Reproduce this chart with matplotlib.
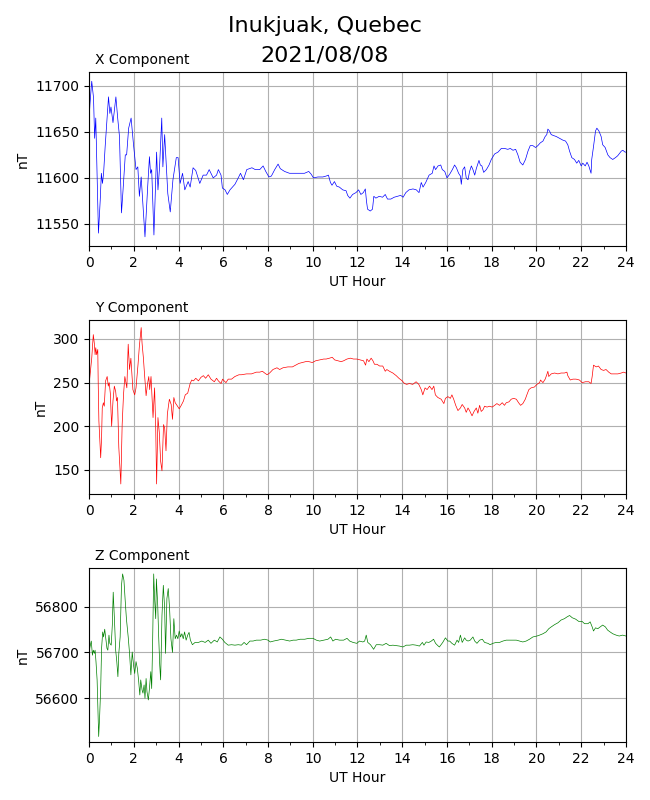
import matplotlib
matplotlib.use("Agg")
import matplotlib.pyplot as plt
from matplotlib.ticker import MultipleLocator

# values (UT hour, nT)
x_hours = [0.0, 0.04, 0.12, 0.2, 0.25, 0.3, 0.42, 0.5, 0.55, 0.6, 0.65, 0.72, 0.8, 0.87, 0.93, 0.98,
           1.07, 1.2, 1.28, 1.36, 1.45, 1.52, 1.62, 1.68, 1.77, 1.88, 1.98, 2.1, 2.18, 2.25, 2.33,
           2.5, 2.62, 2.7, 2.75, 2.8, 2.9, 3.02, 3.08, 3.15, 3.25, 3.3, 3.38, 3.52, 3.63, 3.75, 3.9,
           3.98, 4.07, 4.18, 4.28, 4.43, 4.52, 4.65, 4.77, 4.95, 5.1, 5.25, 5.37, 5.55, 5.7, 5.78,
           5.9, 5.96, 6.08, 6.18, 6.3, 6.52, 6.67, 6.77, 6.9, 7.05, 7.28, 7.43, 7.63, 7.78, 7.9,
           8.04, 8.15, 8.3, 8.45, 8.55, 8.74, 8.96, 9.19, 9.41, 9.63, 9.82, 9.93, 10.03, 10.23,
           10.45, 10.6, 10.7, 10.79, 10.86, 10.97, 11.07, 11.19, 11.34, 11.49, 11.56, 11.66, 11.78,
           11.93, 12.05, 12.15, 12.26, 12.35, 12.4, 12.45, 12.57, 12.67, 12.73, 12.82, 12.97, 13.12,
           13.24, 13.34, 13.49, 13.64, 13.79, 13.93, 14.04, 14.16, 14.3, 14.48, 14.63, 14.75, 14.85,
           14.93, 15.05, 15.2, 15.34, 15.42, 15.49, 15.6, 15.72, 15.79, 15.9, 16.0, 16.12, 16.24,
           16.34, 16.42, 16.52, 16.6, 16.64, 16.71, 16.79, 16.86, 16.94, 17.01, 17.09, 17.16, 17.24,
           17.31, 17.43, 17.49, 17.56, 17.64, 17.76, 17.88, 17.98, 18.13, 18.28, 18.43, 18.57, 18.72,
           18.83, 18.95, 19.07, 19.17, 19.27, 19.39, 19.51, 19.62, 19.72, 19.84, 19.96, 20.06, 20.17,
           20.29, 20.39, 20.46, 20.51, 20.58, 20.66, 20.76, 20.88, 21.03, 21.18, 21.3, 21.4, 21.48,
           21.58, 21.7, 21.8, 21.89, 22.0, 22.07, 22.18, 22.26, 22.34, 22.44, 22.47, 22.55, 22.64,
           22.7, 22.79, 22.89, 22.96, 23.07, 23.19, 23.29, 23.41, 23.53, 23.63, 23.79, 23.86, 23.96,
           24.0]
x_values = [11663, 11680, 11705, 11687, 11643, 11665, 11540, 11576, 11605, 11594, 11605, 11634, 11663,
            11688, 11670, 11677, 11660, 11688, 11665, 11645, 11562, 11587, 11625, 11625, 11654, 11665,
            11638, 11609, 11612, 11580, 11601, 11536, 11590, 11623, 11605, 11609, 11538, 11628, 11587,
            11611, 11665, 11612, 11647, 11583, 11563, 11598, 11622, 11622, 11594, 11605, 11587, 11596,
            11590, 11611, 11608, 11594, 11603, 11603, 11609, 11600, 11603, 11609, 11603, 11589, 11587,
            11582, 11587, 11593, 11600, 11605, 11598, 11609, 11611, 11609, 11609, 11613, 11607, 11601,
            11602, 11609, 11615, 11610, 11607, 11605, 11605, 11605, 11605, 11607, 11604, 11600, 11601,
            11601, 11602, 11603, 11595, 11592, 11596, 11591, 11590, 11587, 11586, 11581, 11578, 11582,
            11584, 11587, 11582, 11584, 11588, 11575, 11566, 11564, 11566, 11580, 11578, 11580, 11579,
            11582, 11577, 11577, 11579, 11580, 11581, 11579, 11584, 11587, 11588, 11587, 11584, 11595,
            11590, 11595, 11603, 11605, 11613, 11609, 11613, 11614, 11609, 11607, 11600, 11604, 11609,
            11614, 11611, 11605, 11602, 11593, 11609, 11612, 11600, 11598, 11607, 11613, 11609, 11603,
            11610, 11619, 11614, 11613, 11606, 11609, 11614, 11620, 11626, 11628, 11632, 11632, 11631,
            11632, 11630, 11631, 11625, 11617, 11614, 11620, 11629, 11635, 11635, 11633, 11635, 11638,
            11640, 11645, 11647, 11653, 11651, 11647, 11646, 11645, 11643, 11641, 11640, 11636, 11629,
            11622, 11620, 11616, 11619, 11613, 11616, 11613, 11617, 11613, 11605, 11620, 11634, 11651,
            11654, 11651, 11645, 11636, 11633, 11625, 11622, 11620, 11622, 11624, 11629, 11630, 11628,
            11628]

y_hours = [0.03, 0.12, 0.19, 0.24, 0.27, 0.3, 0.34, 0.39, 0.41, 0.44, 0.49, 0.52, 0.56, 0.59, 0.64,
           0.68, 0.74, 0.81, 0.86, 0.9, 0.95, 1.01, 1.07, 1.13, 1.19, 1.23, 1.27, 1.33, 1.42, 1.48,
           1.54, 1.6, 1.69, 1.75, 1.81, 1.87, 1.96, 2.04, 2.1, 2.19, 2.25, 2.33, 2.37, 2.43, 2.47,
           2.55, 2.61, 2.67, 2.71, 2.77, 2.86, 2.93, 2.98, 3.02, 3.08, 3.14, 3.2, 3.26, 3.33, 3.38,
           3.44, 3.5, 3.59, 3.67, 3.73, 3.79, 3.85, 3.93, 4.03, 4.12, 4.22, 4.3, 4.41, 4.52, 4.59,
           4.67, 4.77, 4.89, 5.0, 5.11, 5.21, 5.33, 5.45, 5.6, 5.7, 5.78, 5.9, 5.97, 6.04, 6.12,
           6.22, 6.37, 6.52, 6.7, 6.81, 7.04, 7.26, 7.48, 7.63, 7.75, 7.85, 7.96, 8.07, 8.22, 8.4,
           8.52, 8.67, 8.89, 9.09, 9.24, 9.38, 9.53, 9.68, 9.83, 9.98, 10.13, 10.31, 10.49, 10.6,
           10.75, 10.87, 10.98, 11.13, 11.27, 11.38, 11.53, 11.68, 11.82, 11.97, 12.12, 12.27, 12.36,
           12.42, 12.51, 12.61, 12.69, 12.76, 12.87, 12.99, 13.13, 13.24, 13.31, 13.43, 13.58, 13.73,
           13.85, 14.0, 14.1, 14.2, 14.32, 14.47, 14.62, 14.74, 14.85, 14.92, 15.02, 15.11, 15.22,
           15.33, 15.41, 15.48, 15.59, 15.74, 15.86, 15.93, 16.04, 16.15, 16.22, 16.3, 16.39, 16.49,
           16.6, 16.68, 16.79, 16.86, 16.94, 17.01, 17.12, 17.21, 17.31, 17.38, 17.46, 17.53, 17.61,
           17.68, 17.79, 17.9, 18.02, 18.13, 18.23, 18.35, 18.47, 18.57, 18.65, 18.77, 18.87, 18.98,
           19.1, 19.2, 19.29, 19.39, 19.5, 19.57, 19.66, 19.76, 19.91, 20.02, 20.14, 20.18, 20.29,
           20.39, 20.46, 20.51, 20.55, 20.66, 20.81, 20.96, 21.1, 21.25, 21.36, 21.4, 21.51, 21.63,
           21.77, 21.92, 22.04, 22.19, 22.34, 22.44, 22.49, 22.55, 22.67, 22.77, 22.89, 23.0, 23.11,
           23.23, 23.34, 23.49, 23.64, 23.79, 23.89, 24.0]
y_values = [255, 278, 305, 294, 282, 290, 282, 288, 248, 206, 179, 164, 187, 221, 227, 223, 252, 257,
            246, 250, 238, 200, 229, 246, 240, 229, 233, 176, 134, 202, 236, 257, 244, 294, 265, 278,
            242, 236, 244, 271, 292, 313, 295, 278, 263, 235, 248, 257, 242, 257, 210, 244, 198, 134,
            210, 193, 160, 149, 202, 198, 172, 214, 231, 225, 208, 233, 227, 224, 220, 224, 229, 236,
            238, 249, 253, 252, 255, 252, 256, 258, 255, 259, 254, 251, 255, 252, 249, 254, 252, 250,
            254, 254, 257, 259, 259, 260, 260, 262, 262, 263, 261, 259, 261, 265, 267, 265, 267, 268,
            268, 270, 272, 273, 274, 274, 273, 275, 276, 277, 277, 278, 279, 276, 275, 274, 275, 277,
            278, 277, 277, 276, 275, 270, 277, 274, 278, 275, 271, 271, 269, 269, 263, 265, 263, 261,
            258, 255, 252, 249, 248, 249, 248, 251, 248, 242, 236, 244, 242, 246, 242, 246, 236, 233,
            231, 226, 232, 234, 232, 236, 231, 224, 218, 221, 225, 221, 216, 221, 218, 212, 217, 221,
            215, 224, 217, 219, 223, 222, 223, 222, 224, 226, 224, 227, 224, 227, 228, 231, 232, 231,
            227, 224, 226, 231, 236, 242, 244, 245, 248, 250, 253, 250, 254, 259, 263, 257, 260, 261,
            260, 261, 261, 262, 258, 253, 254, 254, 253, 250, 251, 251, 249, 257, 270, 268, 269, 265,
            264, 265, 262, 260, 260, 260, 261, 262, 261]

z_hours = [0.0, 0.04, 0.1, 0.15, 0.19, 0.24, 0.27, 0.31, 0.36, 0.43, 0.47, 0.52, 0.56, 0.61, 0.65,
           0.7, 0.74, 0.8, 0.84, 0.89, 0.93, 0.99, 1.04, 1.08, 1.14, 1.19, 1.24, 1.29, 1.33, 1.39,
           1.45, 1.5, 1.56, 1.61, 1.67, 1.75, 1.81, 1.87, 1.93, 1.99, 2.04, 2.1, 2.16, 2.22, 2.27,
           2.31, 2.37, 2.41, 2.46, 2.5, 2.55, 2.59, 2.65, 2.7, 2.76, 2.8, 2.84, 2.89, 2.93, 2.98,
           3.01, 3.07, 3.11, 3.16, 3.2, 3.26, 3.32, 3.38, 3.42, 3.48, 3.54, 3.6, 3.66, 3.73, 3.79,
           3.85, 3.91, 3.97, 4.03, 4.09, 4.15, 4.21, 4.27, 4.34, 4.41, 4.47, 4.53, 4.62, 4.74, 4.89,
           5.04, 5.19, 5.33, 5.45, 5.6, 5.73, 5.85, 5.96, 6.07, 6.22, 6.37, 6.52, 6.67, 6.81, 6.93,
           7.04, 7.19, 7.33, 7.48, 7.67, 7.85, 8.0, 8.1, 8.25, 8.45, 8.6, 8.79, 8.97, 9.12, 9.26,
           9.44, 9.64, 9.83, 10.01, 10.16, 10.31, 10.49, 10.68, 10.8, 10.9, 11.02, 11.2, 11.38,
           11.53, 11.65, 11.8, 11.97, 12.09, 12.24, 12.32, 12.39, 12.46, 12.58, 12.72, 12.84, 12.99,
           13.13, 13.28, 13.43, 13.58, 13.73, 13.88, 14.03, 14.18, 14.32, 14.47, 14.62, 14.77, 14.9,
           14.97, 15.07, 15.19, 15.3, 15.4, 15.49, 15.59, 15.66, 15.81, 15.93, 16.04, 16.12, 16.22,
           16.34, 16.45, 16.52, 16.6, 16.68, 16.79, 16.86, 16.94, 17.04, 17.16, 17.24, 17.34, 17.46,
           17.58, 17.68, 17.83, 17.93, 18.05, 18.2, 18.35, 18.5, 18.65, 18.8, 18.95, 19.1, 19.24,
           19.39, 19.54, 19.69, 19.84, 20.02, 20.14, 20.29, 20.43, 20.55, 20.66, 20.81, 20.96, 21.1,
           21.25, 21.37, 21.48, 21.6, 21.75, 21.89, 22.04, 22.15, 22.3, 22.4, 22.49, 22.55, 22.64,
           22.74, 22.85, 22.96, 23.08, 23.18, 23.29, 23.41, 23.56, 23.7, 23.85, 24.0]
z_values = [56700, 56712, 56725, 56694, 56705, 56698, 56705, 56680, 56640, 56516, 56556, 56621, 56709,
            56745, 56734, 56751, 56734, 56709, 56705, 56738, 56720, 56716, 56760, 56832, 56767, 56705,
            56680, 56647, 56698, 56734, 56847, 56872, 56858, 56818, 56774, 56734, 56698, 56651, 56701,
            56672, 56654, 56680, 56665, 56636, 56607, 56640, 56618, 56611, 56629, 56600, 56643, 56614,
            56596, 56621, 56658, 56621, 56716, 56872, 56818, 56774, 56861, 56803, 56738, 56672, 56640,
            56781, 56847, 56796, 56698, 56818, 56840, 56796, 56730, 56700, 56774, 56730, 56738, 56730,
            56747, 56734, 56741, 56730, 56745, 56727, 56738, 56744, 56727, 56717, 56722, 56722, 56725,
            56722, 56727, 56720, 56727, 56723, 56734, 56729, 56722, 56716, 56717, 56716, 56717, 56716,
            56722, 56717, 56725, 56725, 56727, 56727, 56729, 56727, 56723, 56725, 56727, 56729, 56727,
            56725, 56727, 56727, 56729, 56729, 56731, 56731, 56727, 56725, 56727, 56729, 56734, 56725,
            56729, 56727, 56727, 56731, 56725, 56722, 56720, 56725, 56723, 56725, 56738, 56722, 56717,
            56707, 56717, 56717, 56716, 56720, 56715, 56716, 56715, 56714, 56712, 56716, 56716, 56717,
            56716, 56714, 56722, 56716, 56723, 56722, 56725, 56729, 56720, 56715, 56712, 56722, 56732,
            56725, 56725, 56720, 56716, 56727, 56722, 56738, 56722, 56732, 56727, 56725, 56727, 56734,
            56725, 56720, 56727, 56729, 56722, 56720, 56717, 56720, 56722, 56722, 56725, 56727, 56727,
            56727, 56727, 56725, 56723, 56725, 56729, 56734, 56736, 56738, 56741, 56745, 56752, 56756,
            56761, 56765, 56771, 56774, 56778, 56781, 56776, 56773, 56768, 56768, 56763, 56763, 56767,
            56756, 56747, 56754, 56752, 56756, 56760, 56756, 56749, 56745, 56741, 56738, 56736, 56738,
            56736]


def main() -> None:
    fig, axes = plt.subplots(3, 1, figsize=(6.5, 8), dpi=100)
    fig.subplots_adjust(left=0.137, right=0.963, top=0.91, bottom=0.0725, hspace=0.425)
    fig.suptitle("Inukjuak, Quebec\n2021/08/08", fontsize=16, linespacing=1.6)

    panels = [
        ("X Component", x_hours, x_values, "blue", (11526, 11715)),
        ("Y Component", y_hours, y_values, "red", (122.5, 321.7)),
        ("Z Component", z_hours, z_values, "green", (56504, 56885)),
    ]
    for ax, (name, hours, values, color, ylim) in zip(axes, panels):
        ax.plot(hours, values, color=color, linewidth=0.5)
        ax.set_title(name, loc="left", x=0.012, fontsize=10)
        ax.set_xlim(0, 24)
        ax.set_ylim(*ylim)
        ax.xaxis.set_major_locator(MultipleLocator(2))
        ax.xaxis.set_minor_locator(MultipleLocator(1))
        ax.grid(True)
        ax.set_xlabel("UT Hour")
        ax.set_ylabel("nT")

    fig.savefig("out.png")


if __name__ == "__main__":
    main()
